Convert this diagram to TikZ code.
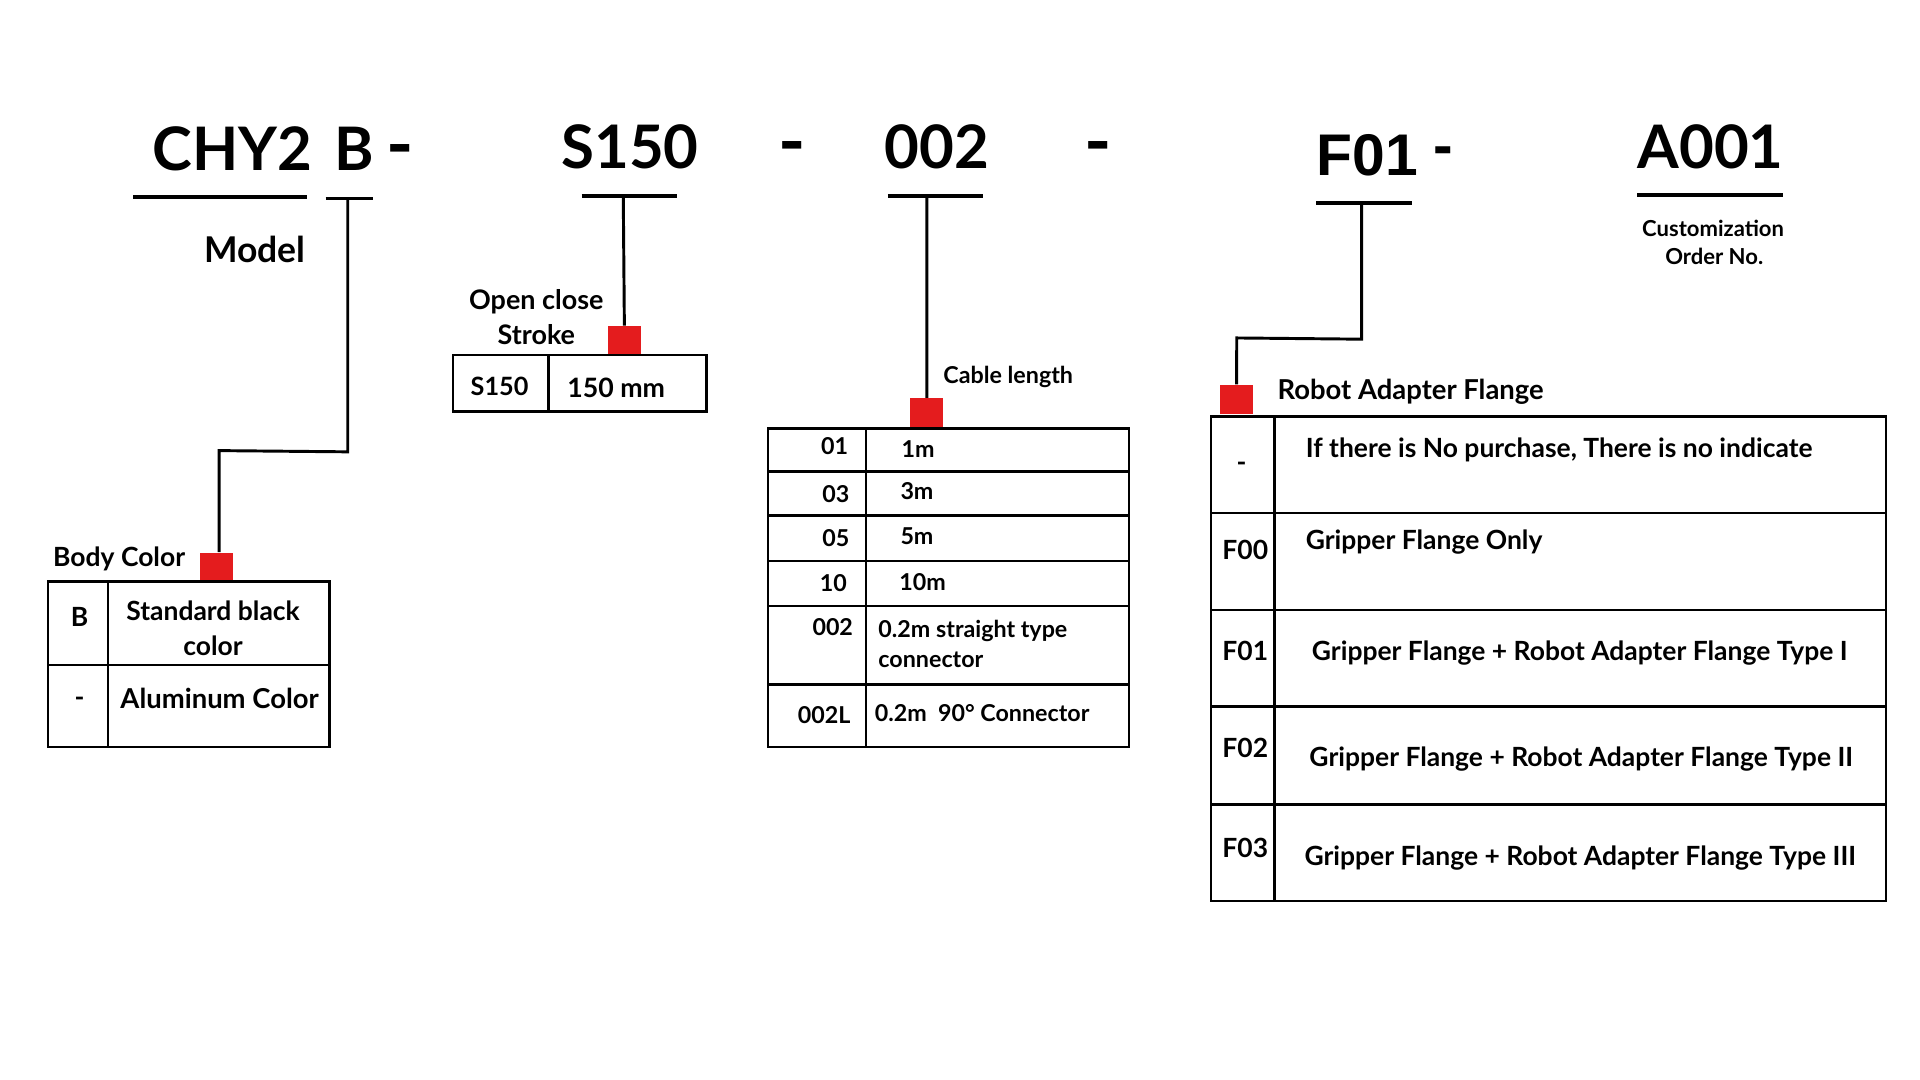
\documentclass[tikz,border=0pt]{standalone}
\usepackage{fontspec}
\setmainfont{Lato}
\newfontfamily\arialfont{Liberation Sans}
\definecolor{mark}{RGB}{228,28,30}
\tikzset{
  txt/.style={inner sep=0pt, anchor=base, font=\bfseries\fontsize{10.8}{13}\selectfont},
  title/.style={txt, anchor=base west, font=\bfseries\fontsize{24.5}{28}\selectfont},
  bigdash/.style={txt, anchor=base west, font=\bfseries\fontsize{30}{32}\selectfont},
  cell/.style={txt, font=\bfseries\fontsize{9.5}{11}\selectfont},
  uline/.style={line width=1.5pt},
  conn/.style={line width=1.2pt, line join=miter},
  tbl/.style={line width=1pt},
  redsq/.style={fill=mark, draw=none, inner sep=0pt, minimum width=13.5pt, minimum height=12pt, anchor=north west}
}
\begin{document}
\begin{tikzpicture}[x=0.5pt, y=-0.5pt]
\useasboundingbox (0,0) rectangle (1568,882);

% ---------- titles ----------
\node[title, anchor=base] (tchy) at (190,139) {CHY2};
\node[title] (tb) at (273,139) {B};
\node[bigdash] (h1) at (315,139) {-};
\node[title] (ts) at (458,138) {S150};
\node[bigdash] (h2) at (635,137) {-};
\node[title] (t002) at (722,138) {002};
\node[bigdash] (h3) at (885,137) {-};
\node[title, font=\arialfont\bfseries\fontsize{24}{28}\selectfont] (tf) at (1075,143) {F01};
\node[title, font=\arialfont\bfseries\fontsize{24}{28}\selectfont] (h4) at (1170,135) {-};
\node[title] (ta) at (1337,138) {A001};

% ---------- underlines ----------
\coordinate (u1a) at (109,161); \coordinate (u1b) at (251,161);
\coordinate (u2a) at (266,162); \coordinate (u2b) at (305,162); \coordinate (u2) at (284,162);
\coordinate (u3a) at (475,160); \coordinate (u3b) at (553,160); \coordinate (u3) at (509,160);
\coordinate (u4a) at (725,160); \coordinate (u4b) at (803,160); \coordinate (u4) at (757,160);
\coordinate (u5a) at (1075,166); \coordinate (u5b) at (1153,166); \coordinate (u5) at (1112,166);
\coordinate (u6a) at (1337,159); \coordinate (u6b) at (1456,159);
\draw[uline] (u1a) -- (u1b);
\draw[uline] (u2a) -- (u2b);
\draw[uline] (u3a) -- (u3b);
\draw[uline] (u4a) -- (u4b);
\draw[uline] (u5a) -- (u5b);
\draw[uline] (u6a) -- (u6b);

\node[txt, anchor=base east, font=\bfseries\fontsize{14.5}{17}\selectfont] (model) at (250,214) {Model};

% ---------- red markers ----------
\node[redsq] (sqbody) at (163,451) {};
\node[redsq, minimum height=11.5pt] (sqstroke) at (496,266) {};
\node[redsq] (sqcable) at (743,325) {};
\node[redsq] (sqflange) at (996,314) {};

% ---------- connectors ----------
\coordinate (b1) at (284,369); \coordinate (b2) at (179,368);
\draw[conn] (u2) -- (b1) -- (b2) -- (b2 |- sqbody.north);
\draw[conn] (u3) -- (sqstroke.north);
\draw[conn] (u4) -- (sqcable.north);
\coordinate (b3) at (1112,277); \coordinate (b4) at (1010,276);
\draw[conn] (u5) -- (b3) -- (b4) -- (sqflange.north);

% ---------- body color table ----------
\node[txt, anchor=base west] (lbody) at (43,463) {Body Color};
\draw[tbl] (39,475) rectangle (269,610);
\draw[tbl] (39,543) -- (269,543);
\draw[tbl] (88,475) -- (88,610);
\node[txt] (bB) at (65,512) {B};
\node[txt] (bStd1) at (174,507) {Standard black};
\node[txt] (bStd2) at (174,535) {color};
\node[txt] (bDash) at (65,577) {-};
\node[txt, anchor=base west, font=\bfseries\fontsize{11.2}{13}\selectfont] (bAlu) at (98,579) {Aluminum Color};

% ---------- stroke table ----------
\node[txt, font=\bfseries\fontsize{11}{13}\selectfont] (lst1) at (438,253) {Open close};
\node[txt, font=\bfseries\fontsize{11}{13}\selectfont] (lst2) at (438,281) {Stroke};
\draw[tbl] (370,290) rectangle (577,336);
\draw[tbl] (448,290) -- (448,336);
\node[txt, font=\bfseries\fontsize{10.3}{12}\selectfont] (sS) at (408,323) {S150};
\node[txt, anchor=base west, font=\bfseries\fontsize{10.9}{12}\selectfont] (sV) at (463,325) {150 mm};

% ---------- cable table ----------
\node[cell, anchor=base west] (lcab) at (770,313) {Cable length};
\draw[tbl] (627,350) rectangle (922,610);
\foreach \yy in {385,421,458,495,559} \draw[tbl] (627,\yy) -- (922,\yy);
\draw[tbl] (707,350) -- (707,610);
\node[cell, anchor=base east] (c1) at (693,371) {01};
\node[cell, anchor=base east] (c2) at (694,410) {03};
\node[cell, anchor=base east] (c3) at (694,446) {05};
\node[cell, anchor=base east] (c4) at (692,483) {10};
\node[cell, anchor=base east] (c5) at (697,519) {002};
\node[cell, anchor=base east] (c6) at (695,591) {002L};
\node[cell, anchor=base west] (d1) at (736,374) {1m};
\node[cell, anchor=base west] (d2) at (735,408) {3m};
\node[cell, anchor=base west] (d3) at (735,445) {5m};
\node[cell, anchor=base west] (d4) at (734,482) {10m};
\node[cell, anchor=base west] (d5) at (717,521) {0.2m straight type};
\node[cell, anchor=base west] (d5b) at (717,545) {connector};
\node[cell, anchor=base west] (d6) at (714,589) {0.2m\ \ 90° Connector};

% ---------- flange table ----------
\node[txt, anchor=base west, font=\bfseries\fontsize{11.2}{13}\selectfont] (lfl) at (1043,326) {Robot Adapter Flange};
\draw[tbl] (989,340) rectangle (1540,736);
\foreach \yy in {419,498,577,657} \draw[tbl] (989,\yy) -- (1540,\yy);
\draw[tbl] (1041,340) -- (1041,736);
\node[txt] (f0) at (1014,385) {-};
\node[txt] (f1) at (1017,457) {F00};
\node[txt] (f2) at (1017,539) {F01};
\node[txt] (f3) at (1017,619) {F02};
\node[txt] (f4) at (1017,700) {F03};
\node[txt, anchor=base west] (g0) at (1066,374) {If there is No purchase, There is no indicate};
\node[txt, anchor=base west] (g1) at (1066,449) {Gripper Flange Only};
\node[txt, anchor=base west] (g2) at (1071,539) {Gripper Flange + Robot Adapter Flange Type I};
\node[txt, anchor=base west] (g3) at (1069,626) {Gripper Flange + Robot Adapter Flange Type II};
\node[txt, anchor=base west] (g4) at (1065,707) {Gripper Flange + Robot Adapter Flange Type III};

% ---------- customization ----------
\node[txt, font=\bfseries\fontsize{9}{11}\selectfont] (cu1) at (1399,193) {Customization};
\node[txt, font=\bfseries\fontsize{9}{11}\selectfont] (cu2) at (1400,216) {Order No.};
\end{tikzpicture}
\end{document}
